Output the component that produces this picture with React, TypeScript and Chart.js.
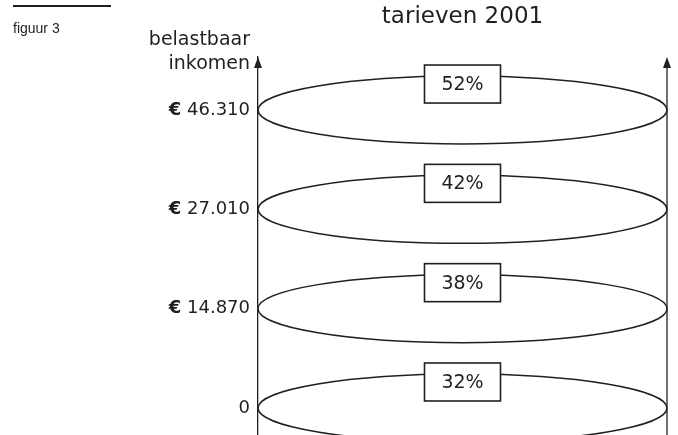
import React, { useEffect, useRef } from 'react';
import { Chart, registerables } from 'chart.js';

Chart.register(...registerables);

// ---- data ----
const incomeLabels = ['0', '€ 14.870', '€ 27.010', '€ 46.310'];
const rates = [32, 38, 42, 52];
const titleText = 'tarieven 2001';
const axisTitleLines = ['belastbaar', 'inkomen'];
const figureLabel = 'figuur 3';

// ---- style ----
const INK = '#231f20';
const FONT = "'DejaVu Sans', sans-serif";
const TICK_SIZE = 18;
const TICK_PAD = 8;
const ELLIPSE_RY = 34;
const BOX_W = 76;
const BOX_H = 38;

function arrowHead(ctx: CanvasRenderingContext2D, x: number, y: number) {
  ctx.beginPath();
  ctx.moveTo(x, y);
  ctx.lineTo(x - 4, y + 11);
  ctx.lineTo(x + 4, y + 11);
  ctx.closePath();
  ctx.fill();
}

const diagramPlugin = {
  id: 'taxDiagram',
  beforeDatasetsDraw(chart: any) {
    const { ctx, chartArea } = chart;
    const meta = chart.getDatasetMeta(0);
    const rx = (chartArea.right - chartArea.left) / 2;
    ctx.save();
    ctx.strokeStyle = INK;
    ctx.fillStyle = INK;
    ctx.lineWidth = 1.3;
    // right vertical line
    ctx.beginPath();
    ctx.moveTo(chartArea.right, chartArea.top + 4);
    ctx.lineTo(chartArea.right, chartArea.bottom);
    ctx.stroke();
    // ellipses
    ctx.lineWidth = 1.5;
    meta.data.forEach((el: any) => {
      ctx.beginPath();
      ctx.ellipse(el.x, el.y, rx, ELLIPSE_RY, 0, 0, Math.PI * 2);
      ctx.stroke();
    });
    // rate boxes
    meta.data.forEach((el: any, i: number) => {
      const cy = el.y - ELLIPSE_RY + 8;
      const bx = el.x - BOX_W / 2;
      const by = cy - BOX_H / 2;
      ctx.fillStyle = '#ffffff';
      ctx.fillRect(bx, by, BOX_W, BOX_H);
      ctx.lineWidth = 1.6;
      ctx.strokeRect(bx, by, BOX_W, BOX_H);
      ctx.fillStyle = INK;
      ctx.font = `19px ${FONT}`;
      ctx.textAlign = 'center';
      ctx.textBaseline = 'middle';
      ctx.fillText(`${rates[i]}%`, el.x, cy + 1);
    });
    ctx.restore();
  },
  afterDraw(chart: any) {
    const { ctx, chartArea } = chart;
    const yScale = chart.scales.y;
    ctx.save();
    ctx.fillStyle = INK;
    ctx.strokeStyle = INK;
    arrowHead(ctx, chartArea.left, chartArea.top);
    arrowHead(ctx, chartArea.right, chartArea.top);
    // emphasise the euro sign of the tick labels (bold, as in the original)
    ctx.textBaseline = 'middle';
    ctx.textAlign = 'left';
    yScale.ticks.forEach((t: any) => {
      const label = incomeLabels[t.value];
      if (!label || !label.startsWith('€')) return;
      ctx.font = `${TICK_SIZE}px ${FONT}`;
      const w = ctx.measureText(label).width;
      const x = chartArea.left - TICK_PAD - w;
      ctx.font = `bold ${TICK_SIZE}px ${FONT}`;
      ctx.fillText('€', x - 1, yScale.getPixelForValue(t.value));
    });
    // axis title
    ctx.font = `19px ${FONT}`;
    ctx.textAlign = 'right';
    ctx.textBaseline = 'middle';
    axisTitleLines.forEach((t, i) => {
      ctx.fillText(t, chartArea.left - 8, 40 + i * 24);
    });
    // figure label
    ctx.lineWidth = 2;
    ctx.beginPath();
    ctx.moveTo(13, 6);
    ctx.lineTo(111, 6);
    ctx.stroke();
    ctx.font = "14px 'Liberation Sans', Arial, sans-serif";
    ctx.textAlign = 'left';
    ctx.fillText(figureLabel, 13, 29);
    ctx.restore();
  },
};

export default function App() {
  const ref = useRef<HTMLCanvasElement>(null);
  useEffect(() => {
    if (!ref.current) return;
    const chart = new Chart(ref.current, {
      type: 'scatter',
      data: {
        datasets: [
          {
            data: rates.map((_, i) => ({ x: 0, y: i })),
            pointRadius: 0,
            pointHoverRadius: 0,
          },
        ],
      },
      options: {
        responsive: false,
        animation: false,
        events: [],
        layout: { autoPadding: false, padding: { left: 0, right: 11, top: 0, bottom: 0 } },
        plugins: {
          legend: { display: false },
          tooltip: { enabled: false },
          title: {
            display: true,
            text: titleText,
            fullSize: false,
            color: INK,
            font: { family: FONT, size: 23, weight: 'normal' },
            padding: { top: 3, bottom: 26.4 },
          },
        },
        scales: {
          x: { type: 'linear', min: -1, max: 1, display: false },
          y: {
            type: 'linear',
            min: -0.272,
            max: 3.534,
            afterFit: (s: any) => {
              s.width = 258;
              s.paddingTop = 0;
              s.paddingBottom = 0;
            },
            afterBuildTicks: (s: any) => {
              s.ticks = incomeLabels.map((_, i) => ({ value: i }));
            },
            grid: { display: false, drawTicks: false },
            border: { display: true, color: INK, width: 1.3 },
            ticks: {
              padding: TICK_PAD,
              color: INK,
              font: { family: FONT, size: TICK_SIZE },
              callback: (v: any) => incomeLabels[v] ?? '',
            },
          },
        },
      },
      plugins: [diagramPlugin],
    });
    return () => chart.destroy();
  }, []);
  return (
    <div style={{ position: 'absolute', left: 0, top: 0, width: 678, height: 435 }}>
      <canvas ref={ref} width={678} height={435} />
    </div>
  );
}
